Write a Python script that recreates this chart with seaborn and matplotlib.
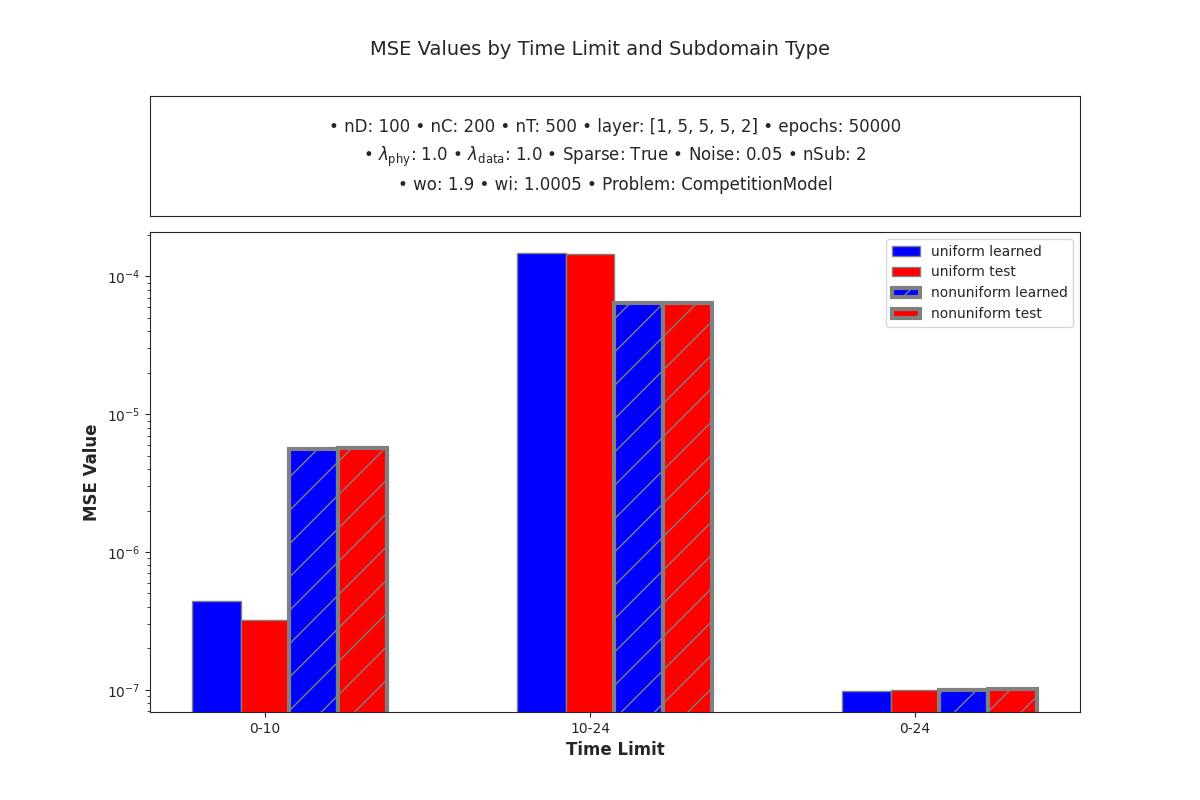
import matplotlib
matplotlib.use("Agg")
import matplotlib.pyplot as plt
import seaborn as sns
import numpy as np

groups = ["0-10", "10-24", "0-24"]
uniform_learned = [4.4e-7, 1.48e-4, 9.8e-8]
uniform_test = [3.2e-7, 1.45e-4, 1.0e-7]
nonuniform_learned = [5.6e-6, 6.4e-5, 9.9e-8]
nonuniform_test = [5.7e-6, 6.4e-5, 1.01e-7]

sns.set_style("ticks")
plt.rcParams['font.family'] = ['DejaVu Sans']
fig = plt.figure(figsize=(12, 8), dpi=100)
fig.suptitle("MSE Values by Time Limit and Subdomain Type", fontsize=14, y=0.95)

tax = fig.add_axes([0.125, 0.73, 0.775, 0.15])
tax.set_xticks([]); tax.set_yticks([])
tax.text(0.5, 0.5,
         "• nD: 100 • nC: 200 • nT: 500 • layer: [1, 5, 5, 5, 2] • epochs: 50000\n"
         "• $\\lambda_{\\mathrm{phy}}$: 1.0 • $\\lambda_{\\mathrm{data}}$: 1.0 • Sparse: True • Noise: 0.05 • nSub: 2\n"
         "• wo: 1.9 • wi: 1.0005 • Problem: CompetitionModel",
         ha="center", va="center", fontsize=12, linespacing=1.5, transform=tax.transAxes)

ax = fig.add_axes([0.125, 0.11, 0.775, 0.60])
x = np.arange(len(groups))
w = 0.15
series = [
    (uniform_learned, "uniform learned", "blue", None, 1),
    (uniform_test, "uniform test", "red", None, 1),
    (nonuniform_learned, "nonuniform learned", "blue", "/", 3),
    (nonuniform_test, "nonuniform test", "red", "/", 3),
]
for i, (vals, lab, col, hatch, lw) in enumerate(series):
    ax.bar(x + (i - 1) * w, vals, w, label=lab, color=col, edgecolor="gray",
           linewidth=lw, hatch=hatch)
ax.set_yscale("log")
ax.set_ylim(6.9e-8, 2.1e-4)
ax.set_xlim(-0.354, 2.508)
ax.set_xticks(x)
ax.set_xticklabels(groups)
ax.set_xlabel("Time Limit", fontsize=12, fontweight="bold")
ax.set_ylabel("MSE Value", fontsize=12, fontweight="bold")
ax.legend(loc="upper right", frameon=True)
fig.savefig("out.png", dpi=100)
